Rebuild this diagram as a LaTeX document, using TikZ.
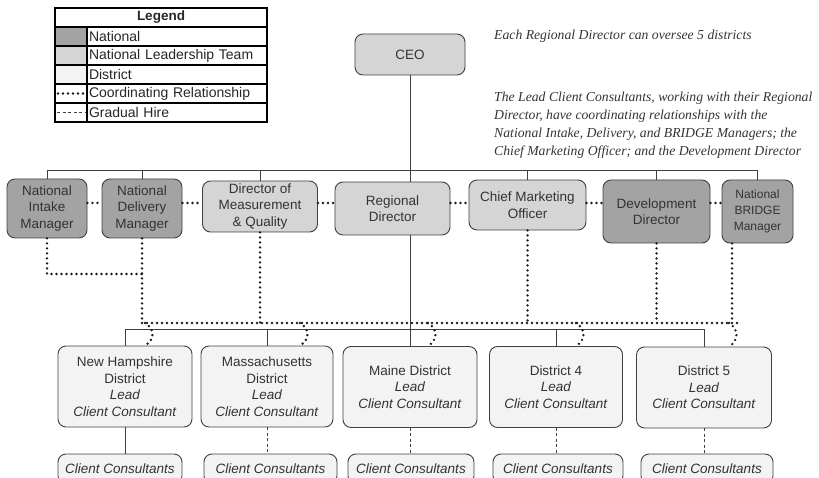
\documentclass[tikz,border=0pt]{standalone}
\usepackage{fontspec}
\setmainfont{Liberation Serif}
\setsansfont{Liberation Sans}
\usepackage{tikz}
\usetikzlibrary{calc,positioning}

\definecolor{natfill}{HTML}{A3A3A3}
\definecolor{nltfill}{HTML}{D5D5D5}
\definecolor{distfill}{HTML}{F3F3F3}
\definecolor{boxline}{HTML}{404040}
\definecolor{txtgray}{HTML}{333333}

\tikzset{
  orgline/.style={draw=boxline, line width=0.8pt},
  coordrel/.style={draw=black!90, line width=2.6pt, line cap=round, dash pattern=on 0pt off 5pt},
  gradual/.style={draw=boxline, line width=0.8pt, dash pattern=on 3pt off 2.5pt},
  orgbox/.style={draw=boxline, line width=0.9pt, rounded corners=8pt, align=center, text=txtgray,
    inner sep=1pt, font=\sffamily\fontsize{13.5}{16.5}\selectfont},
  natbox/.style={orgbox, fill=natfill},
  nltbox/.style={orgbox, fill=nltfill},
  distbox/.style={orgbox, fill=distfill},
  legcell/.style={draw=black, line width=1.6pt, outer sep=0pt, minimum height=19pt, inner sep=0pt,
    font=\sffamily\fontsize{14}{15}\selectfont, text=black!85},
  legswatch/.style={legcell, minimum width=32pt},
  legtext/.style={legcell, text width=176pt, inner xsep=2pt, align=left},
  note/.style={font=\itshape\fontsize{13.7}{18}\selectfont, text=txtgray, align=left, inner sep=0pt}
}
\def\drawcoord{\draw[coordrel]}
\def\draworg{\draw[orgline]}

\begin{document}
\begin{tikzpicture}[x=1pt,y=-1pt]
\useasboundingbox (0,0) rectangle (819,478);

% Legend
\node[legcell, minimum width=212pt, font=\sffamily\bfseries\fontsize{13.5}{15}\selectfont] (legtitle) at (161,17.5) {Legend};
\node[legswatch, fill=natfill, anchor=north west] (swnat) at (legtitle.south west) {};
\node[legtext, right=0pt of swnat] (ltnat) {National};
\node[legswatch, fill=nltfill, below=0pt of swnat] (swnlt) {};
\node[legtext, right=0pt of swnlt] (ltnlt) {National Leadership Team};
\node[legswatch, fill=distfill, below=0pt of swnlt] (swdist) {};
\node[legtext, right=0pt of swdist] (ltdist) {District};
\node[legswatch, fill=white, below=0pt of swdist] (swcoord) {};
\node[legtext, right=0pt of swcoord] (ltcoord) {Coordinating Relationship};
\node[legswatch, fill=white, below=0pt of swcoord] (swgrad) {};
\node[legtext, right=0pt of swgrad] (ltgrad) {Gradual Hire};
\drawcoord ([xshift=3pt]swcoord.west) -- ([xshift=-2pt]swcoord.east);
\draw[gradual] ([xshift=2pt]swgrad.west) -- ([xshift=-1pt]swgrad.east);

% Notes
\node[note, anchor=base west] (span) at (494,40) {Each Regional Director can oversee 5 districts};
\node[note, anchor=north west] (leadnote) at (494,92) {The Lead Client Consultants, working with their Regional\\
  Director, have coordinating relationships with the\\
  National Intake, Delivery, and BRIDGE Managers; the\\
  Chief Marketing Officer; and the Development Director};

% CEO and the national row
\node[nltbox, minimum width=110pt, minimum height=41pt] (CEO) at (410,54.5) {CEO};
\coordinate (topbus) at (410,170);
\node[natbox, minimum width=80pt, minimum height=59pt] (Intake) at (47,208.5) {National\\Intake\\Manager};
\node[natbox, minimum width=80pt, minimum height=59pt] (Delivery) at (142,208.5) {National\\Delivery\\Manager};
\node[nltbox, minimum width=115pt, minimum height=51pt] (DMQ) at (260,206.5) {Director of\\Measurement\\\& Quality};
\node[nltbox, minimum width=115pt, minimum height=53pt] (Regional) at (392.5,208.5) {Regional\\Director};
\node[nltbox, minimum width=117pt, minimum height=50pt] (CMO) at (527.5,205) {Chief Marketing\\Officer};
\node[natbox, minimum width=107pt, minimum height=63pt] (Dev) at (656.5,211.5) {Development\\Director};
\node[natbox, minimum width=71pt, minimum height=63pt, font=\sffamily\fontsize{12}{16}\selectfont] (BRIDGE) at (757.5,211.5) {National\\BRIDGE\\Manager};

% Districts and their consultants
\node[distbox, minimum width=134pt, minimum height=81pt] (NH) at (125,386.5) {New Hampshire\\District\\\textit{Lead}\\\textit{Client Consultant}};
\node[distbox, minimum width=132pt, minimum height=81pt] (Mass) at (267,386.5) {Massachusetts\\District\\\textit{Lead}\\\textit{Client Consultant}};
\node[distbox, minimum width=134pt, minimum height=81pt] (Maine) at (410,387) {Maine District\\\textit{Lead}\\\textit{Client Consultant}};
\node[distbox, minimum width=133pt, minimum height=81pt] (D4) at (556,387) {District 4\\\textit{Lead}\\\textit{Client Consultant}};
\node[distbox, minimum width=135pt, minimum height=81pt] (D5) at (704,387.5) {District 5\\\textit{Lead}\\\textit{Client Consultant}};
\node[distbox, minimum width=124pt, minimum height=30pt] (ccNH) at (120,469) {\textit{Client Consultants}};
\node[distbox, minimum width=133pt, minimum height=30pt] (ccMass) at (270.5,469) {\textit{Client Consultants}};
\node[distbox, minimum width=126pt, minimum height=30pt] (ccMaine) at (411,469) {\textit{Client Consultants}};
\node[distbox, minimum width=130pt, minimum height=30pt] (ccD4) at (558,469) {\textit{Client Consultants}};
\node[distbox, minimum width=132pt, minimum height=30pt] (ccD5) at (707,469) {\textit{Client Consultants}};

% Reporting lines
\draworg (CEO.south) -- (Regional.north -| CEO.south);
\draworg (Regional.south -| CEO.south) -- (Maine.north);
\draworg (Intake.north |- topbus) -- (BRIDGE.north |- topbus);
\draworg (Intake.north) -- (Intake.north |- topbus);
\draworg (Delivery.north) -- (Delivery.north |- topbus);
\draworg (DMQ.north) -- (DMQ.north |- topbus);
\draworg (CMO.north) -- (CMO.north |- topbus);
\draworg (Dev.north) -- (Dev.north |- topbus);
\draworg (BRIDGE.north) -- (BRIDGE.north |- topbus);

\coordinate (dbus) at (0,329);
\draworg (NH.north |- dbus) -- (D5.north |- dbus);
\draworg (NH.north |- dbus) -- (NH.north);
\draworg (Mass.north |- dbus) -- (Mass.north);
\draworg (D4.north |- dbus) -- (D4.north);
\draworg (D5.north |- dbus) -- (D5.north);

\draworg (NH.south) -- (NH.south |- ccNH.north);
\draw[gradual] (Mass.south) -- (Mass.south |- ccMass.north);
\draw[gradual] (Maine.south) -- (Maine.south |- ccMaine.north);
\draw[gradual] (D4.south) -- (D4.south |- ccD4.north);
\draw[gradual] (D5.south) -- (D5.south |- ccD5.north);

% Coordinating relationships across the national row
\coordinate (linky) at (0,203);
\drawcoord (Intake.east |- linky) -- (Delivery.west |- linky);
\drawcoord (Delivery.east |- linky) -- (DMQ.west |- linky);
\drawcoord (DMQ.east |- linky) -- (Regional.west |- linky);
\drawcoord (Regional.east |- linky) -- (CMO.west |- linky);
\drawcoord (CMO.east |- linky) -- (Dev.west |- linky);
\drawcoord (Dev.east |- linky) -- (BRIDGE.west |- linky);

% Coordinating relationships down to the districts
\coordinate (cbus) at (0,323);
\coordinate (intakebend) at (0,274);
\drawcoord (Intake.south) |- (Delivery.south |- intakebend);
\drawcoord (Delivery.south) -- (Delivery.south |- cbus);
\drawcoord (DMQ.south) -- (DMQ.south |- cbus);
\drawcoord (CMO.south) -- (CMO.south |- cbus);
\drawcoord (Dev.south) -- (Dev.south |- cbus);
\drawcoord ([xshift=-25.5pt]BRIDGE.south) -- ([xshift=-25.5pt]BRIDGE.south |- cbus);
\drawcoord (Delivery.south |- cbus) -- ([xshift=-19.5pt]BRIDGE.south |- cbus);

% little hooks from the coordinating line into each district
\drawcoord ([xshift=20pt]NH.north |- cbus) .. controls +(10,6) and +(10,-6) .. ([xshift=20pt]NH.north);
\drawcoord ([xshift=33pt]Mass.north |- cbus) .. controls +(10,6) and +(10,-6) .. ([xshift=33pt]Mass.north);
\drawcoord ([xshift=18pt]Maine.north |- cbus) .. controls +(10,6) and +(10,-6) .. ([xshift=18pt]Maine.north);
\drawcoord ([xshift=20pt]D4.north |- cbus) .. controls +(10,6) and +(10,-6) .. ([xshift=20pt]D4.north);
\drawcoord ([xshift=25pt]D5.north |- cbus) .. controls +(10,6) and +(10,-6) .. ([xshift=25pt]D5.north);
\end{tikzpicture}
\end{document}
